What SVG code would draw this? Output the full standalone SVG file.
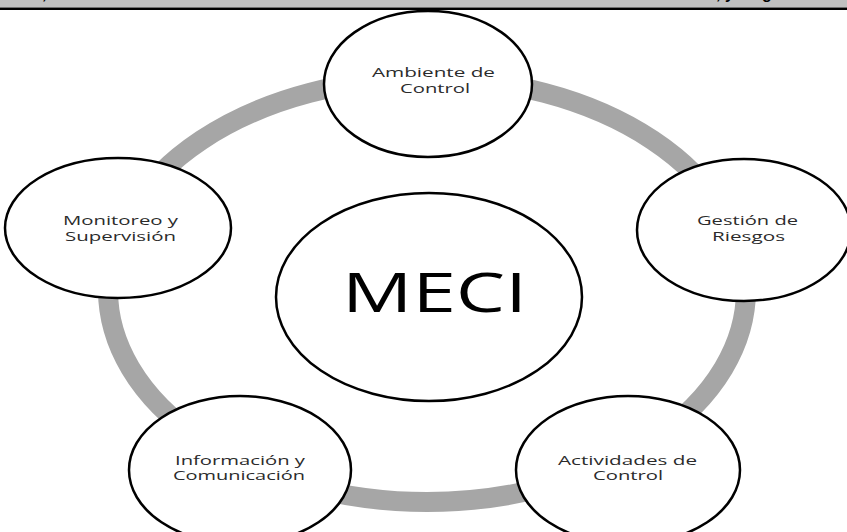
<svg xmlns="http://www.w3.org/2000/svg" width="847" height="532" viewBox="0 0 847 532">
<style>
.node{fill:#ffffff;stroke:#000000;stroke-width:2.5}
.lbl{font-family:"Open Sans","Liberation Sans",sans-serif;font-size:13.5px;fill:#2b2b2b}
.big{font-family:"Open Sans","Liberation Sans",sans-serif;font-size:54px;fill:#000000}
.hdr{font-family:"Liberation Sans",Arial,sans-serif;font-size:16px;font-weight:bold;fill:#000000}
</style>
<defs>
<clipPath id="barclip"><rect x="0" y="0" width="847" height="7.5"/></clipPath>
</defs>
<rect x="0" y="0" width="847" height="7.5" fill="#c0c0c0"/>
<g clip-path="url(#barclip)">
<text class="hdr" x="42" y="-1">,</text>
<text class="hdr" x="716" y="-1">, y</text>
<text class="hdr" x="762" y="-1">g</text>
</g>
<rect x="0" y="7.5" width="847" height="2.5" fill="#000000"/>
<g id="connectors">
<ellipse cx="427" cy="290" rx="319" ry="212" fill="none" stroke="#a6a6a6" stroke-width="20"/>
</g>
<g id="meci">
<ellipse class="node" cx="429" cy="297" rx="153" ry="104"/>
<text class="big" x="342" y="312" textLength="185" lengthAdjust="spacingAndGlyphs">MECI</text>
</g>
<g id="ambiente">
<ellipse class="node" cx="428" cy="84" rx="104" ry="73"/>
<text class="lbl" x="372" y="77" textLength="123" lengthAdjust="spacingAndGlyphs">Ambiente de</text>
<text class="lbl" x="400" y="93" textLength="70" lengthAdjust="spacingAndGlyphs">Control</text>
</g>
<g id="gestion">
<ellipse class="node" cx="744" cy="230" rx="107" ry="71"/>
<text class="lbl" x="697" y="225" textLength="101" lengthAdjust="spacingAndGlyphs">Gestión de</text>
<text class="lbl" x="712" y="241" textLength="73" lengthAdjust="spacingAndGlyphs">Riesgos</text>
</g>
<g id="actividades">
<ellipse class="node" cx="628" cy="470" rx="112" ry="74"/>
<text class="lbl" x="558" y="465" textLength="139" lengthAdjust="spacingAndGlyphs">Actividades de</text>
<text class="lbl" x="593" y="480" textLength="70" lengthAdjust="spacingAndGlyphs">Control</text>
</g>
<g id="informacion">
<ellipse class="node" cx="240" cy="470" rx="111" ry="74"/>
<text class="lbl" x="175" y="465" textLength="130" lengthAdjust="spacingAndGlyphs">Información y</text>
<text class="lbl" x="173" y="480" textLength="132" lengthAdjust="spacingAndGlyphs">Comunicación</text>
</g>
<g id="monitoreo">
<ellipse class="node" cx="118" cy="228" rx="113" ry="70"/>
<text class="lbl" x="63" y="225" textLength="115" lengthAdjust="spacingAndGlyphs">Monitoreo y</text>
<text class="lbl" x="65" y="241" textLength="111" lengthAdjust="spacingAndGlyphs">Supervisión</text>
</g>
</svg>
